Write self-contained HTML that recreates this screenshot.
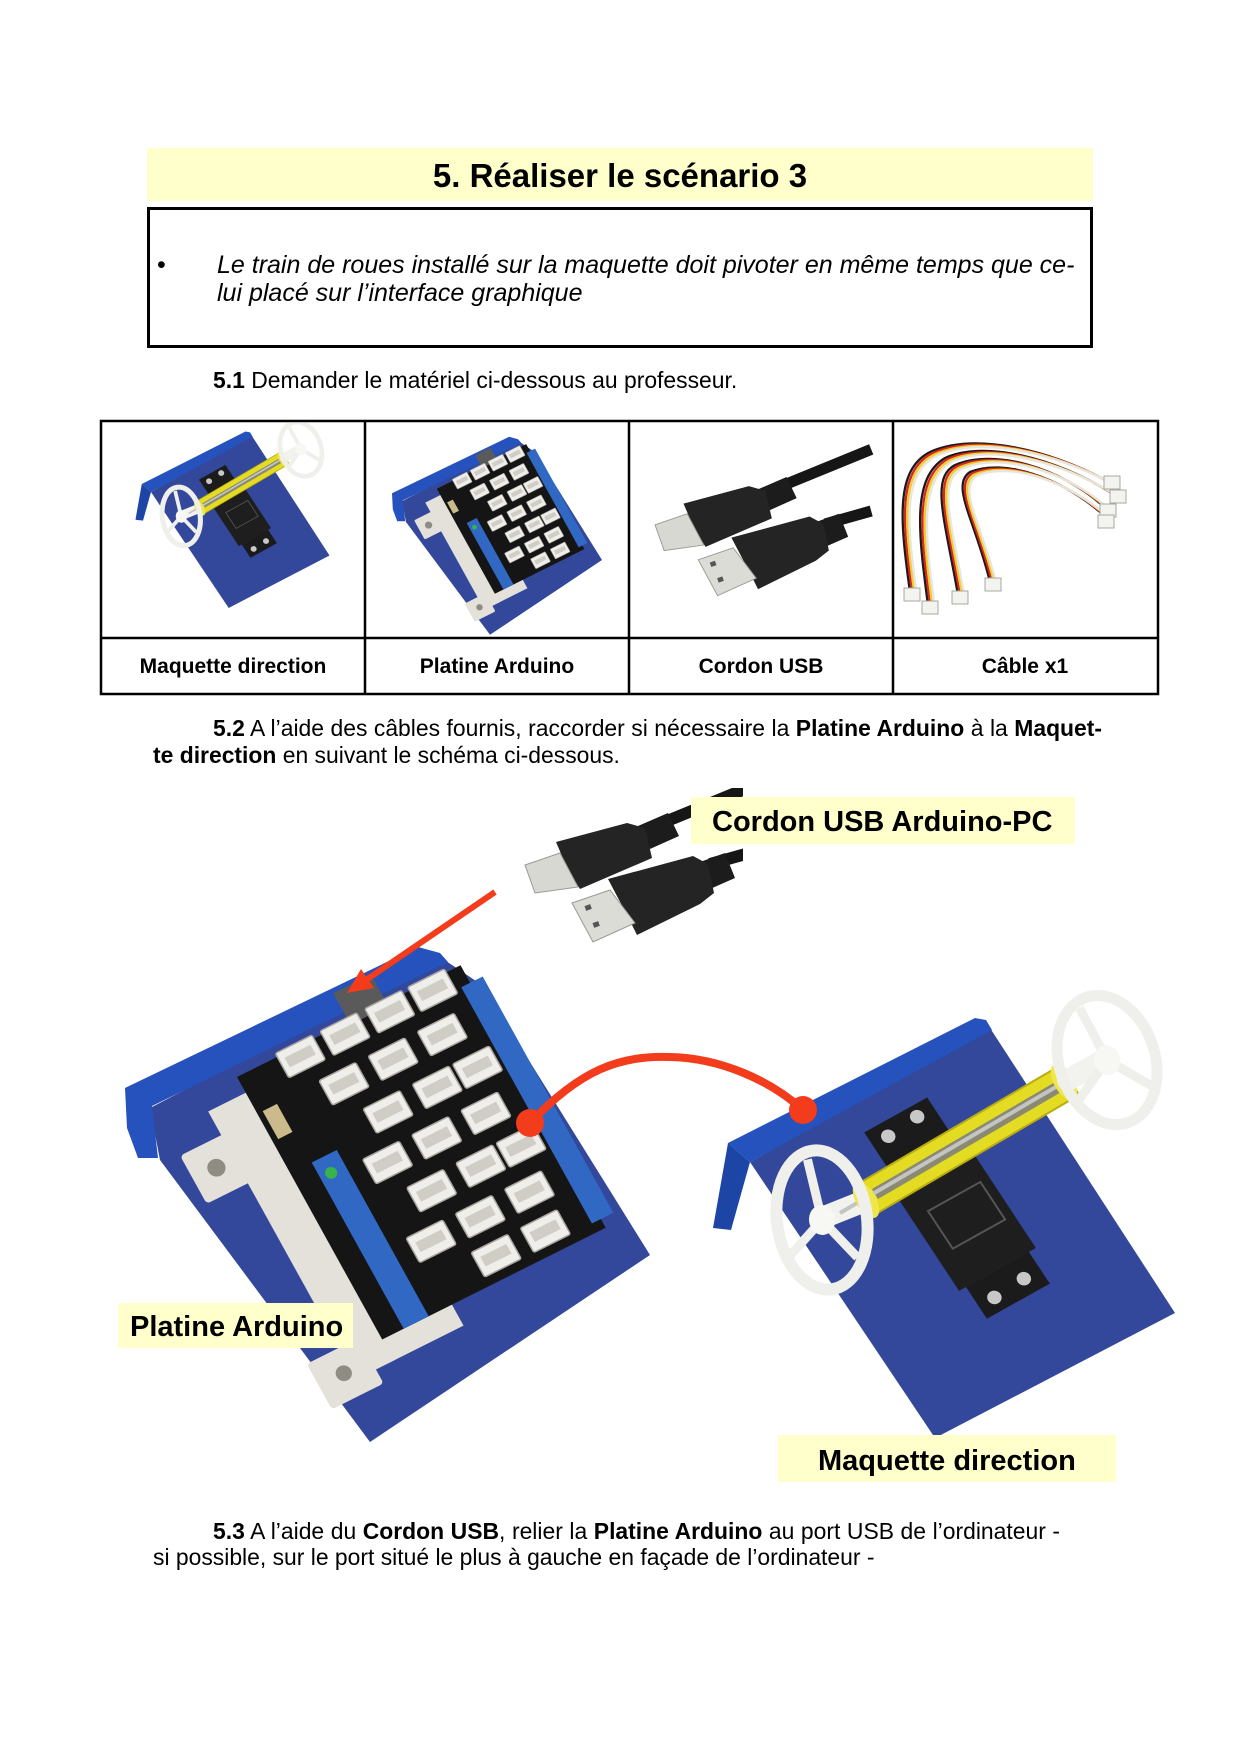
<!DOCTYPE html>
<html><head><meta charset="utf-8">
<style>
html,body{margin:0;padding:0;background:#fff;}
body{width:1240px;height:1754px;position:relative;overflow:hidden;font-family:"Liberation Sans",Arial,sans-serif;color:#000;}
.t{position:absolute;white-space:nowrap;line-height:1.117;}
.j{text-align:justify;text-align-last:justify;}
svg{position:absolute;left:0;top:0;}
b{font-weight:bold;}
.lab{font-size:21px;font-weight:bold;text-align:center;width:264px;}
.big{font-size:29px;font-weight:bold;}
.bd{font-size:22.9px;}
</style></head><body>
<svg width="1240" height="1754" viewBox="0 0 1240 1754">
<defs>
 <g id="con"><rect x="0" y="0" width="41" height="28" rx="2" fill="#efeeea" stroke="#a9a7a0" stroke-width="1.5"/><rect x="6" y="8" width="29" height="11" fill="#cfcdc6"/></g>
 <g id="plat">
  <polygon points="150,1108 440,957 482,985 650,1255 370,1442 160,1160" fill="#33479b"/>
  <polygon points="125,1088 418,947 440,953 448,962 152,1106 158,1158 138,1158 127,1128" fill="#2552bd"/>
  <g transform="matrix(0.894,-0.447,0.484,0.875,237,1077)">
   <rect x="-42" y="18" width="44" height="306" fill="#e3e1d9"/>
   <rect x="-42" y="298" width="120" height="26" fill="#e3e1d9"/>
   <rect x="-88" y="45" width="58" height="55" rx="4" fill="#e3e1d9"/>
   <circle cx="-62" cy="72" r="9" fill="#8f8c84"/>
   <rect x="-78" y="288" width="58" height="52" rx="4" fill="#e3e1d9"/>
   <circle cx="-50" cy="313" r="8" fill="#8f8c84"/>
   <rect x="0" y="0" width="250" height="300" fill="#151515"/>
   <rect x="125" y="-32" width="42" height="36" fill="#5a5a5a"/>
   <rect x="24" y="110" width="28" height="190" fill="#3168c4"/>
   <rect x="240" y="20" width="24" height="270" fill="#3168c4"/>
   <rect x="6" y="42" width="16" height="32" fill="#cbbb8c"/>
   <circle cx="36" cy="128" r="6" fill="#37b34a"/>
   <use href="#con" x="45" y="-4"/><use href="#con" x="95" y="-4"/><use href="#con" x="145" y="-4"/><use href="#con" x="193" y="-4"/>
   <use href="#con" x="70" y="40"/><use href="#con" x="125" y="40"/><use href="#con" x="180" y="40"/>
   <use href="#con" x="95" y="85"/><use href="#con" x="150" y="85"/><use href="#con" x="195" y="85"/>
   <use href="#con" x="70" y="130"/><use href="#con" x="125" y="130"/><use href="#con" x="180" y="130"/>
   <use href="#con" x="95" y="175"/><use href="#con" x="150" y="175"/><use href="#con" x="195" y="175"/>
   <use href="#con" x="70" y="220"/><use href="#con" x="125" y="220"/><use href="#con" x="180" y="220"/>
   <use href="#con" x="120" y="262"/><use href="#con" x="175" y="262"/>
  </g>
 </g>
 <g id="maq">
  <polygon points="750,1162 990,1028 1175,1313 935,1438" fill="#33479b"/>
  <polygon points="728,1143 975,1018 986,1020 992,1030 750,1162" fill="#2552bd"/>
  <polygon points="728,1143 750,1162 731,1230 713,1228" fill="#1c45a6"/>
  <g transform="matrix(0.873,-0.487,0.55,0.835,750,1162)">
   <rect x="112" y="30" width="72" height="60" fill="#1b1b1b"/>
   <rect x="104" y="90" width="88" height="125" fill="#1e1e1e"/>
   <rect x="112" y="215" width="72" height="38" fill="#1b1b1b"/>
   <rect x="122" y="130" width="60" height="45" fill="none" stroke="#555" stroke-width="2"/>
   <circle cx="130" cy="45" r="7" fill="#c8c8c8"/><circle cx="165" cy="42" r="7" fill="#c8c8c8"/>
   <circle cx="130" cy="238" r="7" fill="#c8c8c8"/><circle cx="165" cy="236" r="7" fill="#c8c8c8"/>
  </g>
  <line x1="822" y1="1218" x2="862" y2="1202" stroke="#f2f2ee" stroke-width="22" stroke-linecap="round"/>
  <polygon points="856,1185 1061,1065 1079,1095 874,1215" fill="#e4dc22" stroke="#b9ac12" stroke-width="2"/>
  <polygon points="872,1189 1057,1081 1063,1091 878,1199" fill="#8a8a72"/>
  <line x1="840" y1="1213" x2="1090" y2="1067" stroke="#c4c4c4" stroke-width="4"/>
  <ellipse cx="866" cy="1200" rx="10" ry="20" transform="rotate(-30 866 1200)" fill="#eee64a"/>
  <ellipse cx="1064" cy="1082" rx="10" ry="20" transform="rotate(-30 1064 1082)" fill="#eee64a"/>
  <line x1="1068" y1="1080" x2="1104" y2="1060" stroke="#f2f2ee" stroke-width="22" stroke-linecap="round"/>
  <g transform="translate(822,1220) rotate(-8)">
   <ellipse rx="45" ry="70" fill="none" stroke="#efefeb" stroke-width="12"/>
   <path d="M0,0 L-6,-62 M0,0 L-38,32 M0,0 L30,42" stroke="#efefeb" stroke-width="9" fill="none"/>
   <ellipse rx="13" ry="15" fill="#f7f7f4"/>
  </g>
  <g transform="translate(1107,1060) rotate(-18)">
   <ellipse rx="48" ry="66" fill="none" stroke="#efefeb" stroke-width="11"/>
   <path d="M0,0 L-10,-58 M0,0 L-40,30 M0,0 L34,38" stroke="#efefeb" stroke-width="9" fill="none"/>
   <ellipse rx="13" ry="15" fill="#f7f7f4"/>
  </g>
 </g>
 <g id="usb">
  <line x1="760" y1="783" x2="650" y2="828" stroke="#161616" stroke-width="12"/>
  <line x1="760" y1="850" x2="710" y2="864" stroke="#161616" stroke-width="12"/>
  <polygon points="638,826 668,813 679,836 650,849" fill="#1c1c1c"/>
  <polygon points="556,842 627,823 645,828 652,858 580,889 568,870" fill="#242424"/>
  <polygon points="525,865 560,853 578,887 535,893" fill="#d8d8d2" stroke="#9a9a94" stroke-width="1"/>
  <polygon points="700,862 725,853 735,878 710,889" fill="#1c1c1c"/>
  <polygon points="608,879 693,856 708,864 714,893 700,904 637,935 627,915" fill="#242424"/>
  <polygon points="572,903 610,890 635,923 593,942" fill="#dcdcd6" stroke="#9a9a94" stroke-width="1"/>
  <rect x="585" y="905" width="6" height="5" fill="#555" transform="rotate(-20 588 907)"/>
  <rect x="593" y="922" width="6" height="5" fill="#555" transform="rotate(-20 596 924)"/>
 </g>
 <clipPath id="cU"><rect x="500" y="788" width="243" height="170"/></clipPath>
 <clipPath id="c1"><rect x="103" y="423" width="261" height="214"/></clipPath>
 <clipPath id="c2"><rect x="367" y="423" width="261" height="214"/></clipPath>
 <clipPath id="c3"><rect x="631" y="423" width="243" height="214"/></clipPath>
 <clipPath id="c4"><rect x="895" y="423" width="262" height="214"/></clipPath>
</defs>

<rect x="147" y="148" width="946" height="53" fill="#ffffcc"/>
<rect x="148.5" y="208.5" width="943" height="138" fill="none" stroke="#000" stroke-width="3"/>

<g clip-path="url(#c1)"><use href="#maq" transform="matrix(0.42,0,0,0.42,-164,4)"/></g>
<g clip-path="url(#c2)"><use href="#plat" transform="matrix(0.4,0,0,0.4,342,58)"/></g>
<g clip-path="url(#c3)"><use href="#usb" transform="matrix(0.92,0,0,0.92,172,-271)"/></g>
<g clip-path="url(#c4)" fill="none" stroke-width="2.3">
 <g>
  <path d="M910,592 C900,520 895,470 930,452 C975,432 1050,450 1105,480" stroke="#1a1a1a"/>
  <path d="M910,592 C900,520 895,470 930,452 C975,432 1050,450 1105,480" stroke="#d8261e" transform="translate(2.3,1.2)"/>
  <path d="M910,592 C900,520 895,470 930,452 C975,432 1050,450 1105,480" stroke="#f0cf2c" transform="translate(4.6,2.4)"/>
  <path d="M910,592 C900,520 895,470 930,452 C975,432 1050,450 1105,480" stroke="#e6e6e0" transform="translate(6.9,3.6)"/>
 </g>
 <g>
  <path d="M928,605 C918,530 912,478 945,458 C985,440 1055,458 1110,492" stroke="#1a1a1a"/>
  <path d="M928,605 C918,530 912,478 945,458 C985,440 1055,458 1110,492" stroke="#d8261e" transform="translate(2.3,1.2)"/>
  <path d="M928,605 C918,530 912,478 945,458 C985,440 1055,458 1110,492" stroke="#f0cf2c" transform="translate(4.6,2.4)"/>
  <path d="M928,605 C918,530 912,478 945,458 C985,440 1055,458 1110,492" stroke="#e6e6e0" transform="translate(6.9,3.6)"/>
 </g>
 <g>
  <path d="M958,595 C945,520 930,478 955,465 C995,448 1060,468 1102,505" stroke="#1a1a1a"/>
  <path d="M958,595 C945,520 930,478 955,465 C995,448 1060,468 1102,505" stroke="#d8261e" transform="translate(2.3,1.2)"/>
  <path d="M958,595 C945,520 930,478 955,465 C995,448 1060,468 1102,505" stroke="#f0cf2c" transform="translate(4.6,2.4)"/>
  <path d="M958,595 C945,520 930,478 955,465 C995,448 1060,468 1102,505" stroke="#e6e6e0" transform="translate(6.9,3.6)"/>
 </g>
 <g>
  <path d="M990,582 C975,520 950,485 970,472 C1005,458 1060,478 1100,512" stroke="#1a1a1a"/>
  <path d="M990,582 C975,520 950,485 970,472 C1005,458 1060,478 1100,512" stroke="#d8261e" transform="translate(2.3,1.2)"/>
  <path d="M990,582 C975,520 950,485 970,472 C1005,458 1060,478 1100,512" stroke="#f0cf2c" transform="translate(4.6,2.4)"/>
  <path d="M990,582 C975,520 950,485 970,472 C1005,458 1060,478 1100,512" stroke="#e6e6e0" transform="translate(6.9,3.6)"/>
 </g>
 <g fill="#f3f3ef" stroke="#a8a8a2" stroke-width="1">
  <rect x="904" y="588" width="16" height="13"/><rect x="922" y="601" width="16" height="13"/>
  <rect x="952" y="591" width="16" height="13"/><rect x="985" y="578" width="16" height="13"/>
  <rect x="1104" y="476" width="16" height="13"/><rect x="1110" y="490" width="16" height="13"/>
  <rect x="1100" y="504" width="16" height="13"/><rect x="1098" y="515" width="16" height="13"/>
 </g>
</g>

<g stroke="#000" stroke-width="2.5" fill="none">
 <rect x="101" y="421" width="1057" height="273"/>
 <line x1="365" y1="421" x2="365" y2="694"/>
 <line x1="629" y1="421" x2="629" y2="694"/>
 <line x1="893" y1="421" x2="893" y2="694"/>
 <line x1="101" y1="638" x2="1158" y2="638"/>
</g>

<use href="#plat"/>
<use href="#maq"/>
<g clip-path="url(#cU)"><use href="#usb"/></g>

<line x1="495" y1="892" x2="366" y2="980" stroke="#f23c1c" stroke-width="6"/>
<polygon points="347,993 374,988 361,969" fill="#f23c1c"/>
<path d="M530,1123 C580,1070 620,1055 670,1057 C720,1058 770,1080 803,1110" fill="none" stroke="#f23c1c" stroke-width="8"/>
<circle cx="530" cy="1123" r="14" fill="#f23c1c"/>
<circle cx="803" cy="1110" r="14" fill="#f23c1c"/>

<rect x="691" y="797" width="384" height="47" fill="#ffffcc"/>
<rect x="118" y="1303" width="235" height="45" fill="#ffffcc"/>
<rect x="778" y="1435" width="338" height="47" fill="#ffffcc"/>
</svg>

<div class="t" style="left:147px;top:157.6px;width:946px;text-align:center;font-size:33px;font-weight:bold;">5. Réaliser le scénario 3</div>

<div class="t" style="left:157px;top:252.4px;font-size:25px;">•</div>
<div class="t j" style="left:217px;top:251.6px;width:857px;font-size:25px;font-style:italic;">Le train de roues installé sur la maquette doit pivoter en même temps que ce-</div>
<div class="t" style="left:217px;top:279.6px;font-size:25px;font-style:italic;">lui placé sur l’interface graphique</div>

<div class="t bd" style="left:213px;top:367.8px;"><b>5.1</b> Demander le matériel ci-dessous au professeur.</div>

<div class="t lab" style="left:101px;top:655px;">Maquette direction</div>
<div class="t lab" style="left:365px;top:655px;">Platine Arduino</div>
<div class="t lab" style="left:629px;top:655px;">Cordon USB</div>
<div class="t lab" style="left:893px;top:655px;">Câble x1</div>

<div class="t bd j" style="left:213px;top:716.2px;width:889px;"><b>5.2</b> A l’aide des câbles fournis, raccorder si nécessaire la <b>Platine Arduino</b> à la <b>Maquet-</b></div>
<div class="t bd" style="left:153px;top:743.2px;"><b>te direction</b> en suivant le schéma ci-dessous.</div>

<div class="t big" style="left:712px;top:805.8px;">Cordon USB Arduino-PC</div>
<div class="t big" style="left:130px;top:1310.8px;">Platine Arduino</div>
<div class="t big" style="left:818px;top:1445.3px;">Maquette direction</div>

<div class="t bd j" style="left:213px;top:1519.2px;width:847px;"><b>5.3</b> A l’aide du <b>Cordon USB</b>, relier la <b>Platine Arduino</b> au port USB de l’ordinateur -</div>
<div class="t bd" style="left:153px;top:1545.2px;">si possible, sur le port situé le plus à gauche en façade de l’ordinateur -</div>
</body></html>
